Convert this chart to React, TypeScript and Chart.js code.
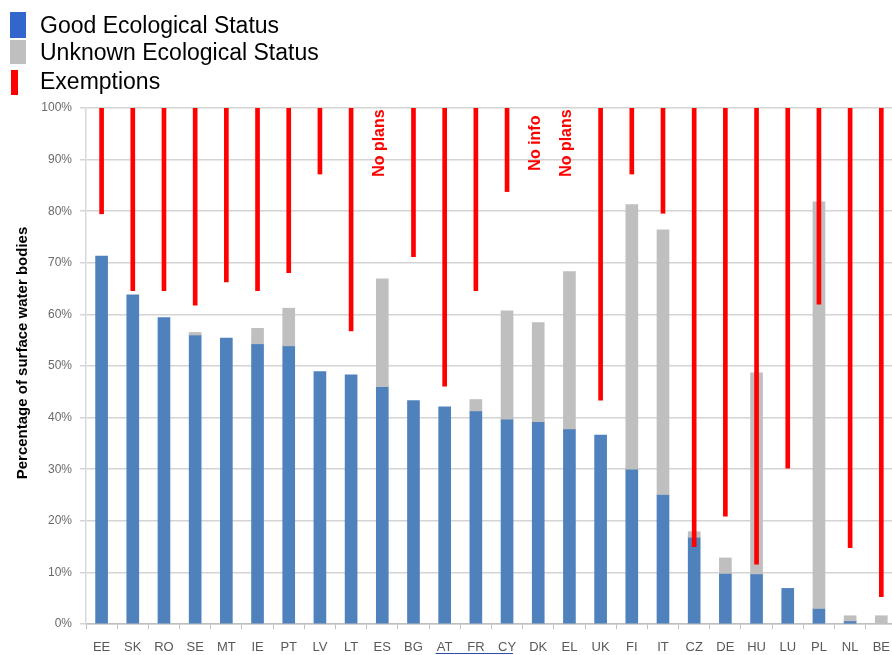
import React, { useEffect, useRef } from "react";
import { Chart, registerables } from "chart.js";

Chart.register(...registerables);

const countries = ["EE", "SK", "RO", "SE", "MT", "IE", "PT", "LV", "LT", "ES", "BG", "AT", "FR", "CY", "DK", "EL", "UK", "FI", "IT", "CZ", "DE", "HU", "LU", "PL", "NL", "BE"];

// % of water bodies in good ecological status
const goodStatus = [71.3, 63.8, 59.4, 56.0, 55.4, 54.3, 53.9, 48.9, 48.3, 46.0, 43.3, 42.1, 41.3, 39.7, 39.2, 37.8, 36.6, 30.0, 25.1, 16.8, 9.8, 9.7, 6.9, 3.0, 0.6, 0];
// top of the unknown-status segment (good + unknown)
const unknownTop = [71.3, 63.8, 59.4, 56.5, 55.4, 57.3, 61.2, 48.9, 48.3, 66.9, 43.3, 42.1, 43.5, 60.7, 58.4, 68.3, 36.6, 81.3, 76.4, 17.9, 12.8, 48.7, 6.9, 81.8, 1.6, 1.6];
// exemptions: line runs from this value up to 100%
const exemptionFrom: (number | null)[] = [79.5, 64.6, 64.6, 61.8, 66.3, 64.6, 68.1, 87.2, 56.8, null, 71.2, 46.1, 64.6, 83.8, null, null, 43.4, 87.2, 79.6, 15.0, 20.9, 11.6, 30.2, 62.0, 14.8, 5.3];

const noteCountries = ["ES", "DK", "EL"];
const noteTexts = ["No plans", "No info", "No plans"];
const underlinedCountries = ["AT", "CY"];

const yTickValues = [0, 10, 20, 30, 40, 50, 60, 70, 80, 90, 100];
const yAxisTitle = "Percentage of surface water bodies";

const legendLabels = ["Good Ecological Status", "Unknown Ecological Status", "Exemptions"];
const legendColors = ["#3366cc", "#bfbfbf", "#ff0000"];

const FONT = "'Liberation Sans', Arial, sans-serif";

export default function App() {
  const ref = useRef<HTMLCanvasElement | null>(null);

  useEffect(() => {
    if (!ref.current) return;

    const overlay = {
      id: "overlay",
      afterDraw(chart: any) {
        const ctx = chart.ctx as CanvasRenderingContext2D;
        const xs = chart.scales.x;
        const ys = chart.scales.y;
        ctx.save();
        // legend
        const rects = [
          [10, 12, 16, 26],
          [10, 40, 16, 24],
          [11, 70, 7, 25],
        ];
        const baselines = [33, 60, 89];
        legendLabels.forEach((t, i) => {
          ctx.fillStyle = legendColors[i];
          const r = rects[i];
          ctx.fillRect(r[0], r[1], r[2], r[3]);
          ctx.fillStyle = "#000";
          ctx.font = `23px ${FONT}`;
          ctx.textAlign = "left";
          ctx.textBaseline = "alphabetic";
          ctx.fillText(t, 40, baselines[i]);
        });
        // y axis title
        ctx.save();
        ctx.translate(23, 353);
        ctx.rotate(-Math.PI / 2);
        ctx.fillStyle = "#000";
        ctx.font = `bold 15px ${FONT}`;
        ctx.textAlign = "center";
        ctx.textBaseline = "middle";
        ctx.fillText(yAxisTitle, 0, 0);
        ctx.restore();
        // notes
        noteCountries.forEach((c, i) => {
          const idx = countries.indexOf(c);
          const x = xs.getPixelForValue(idx) - 3;
          const y = ys.getPixelForValue(93.2);
          ctx.save();
          ctx.translate(x, y);
          ctx.rotate(-Math.PI / 2);
          ctx.fillStyle = "#ff0000";
          ctx.font = `bold 16px ${FONT}`;
          ctx.textAlign = "center";
          ctx.textBaseline = "middle";
          ctx.fillText(noteTexts[i], 0, 0);
          ctx.restore();
        });
        // underline under labels
        const i0 = countries.indexOf(underlinedCountries[0]);
        const i1 = countries.indexOf(underlinedCountries[1]);
        const x0 = xs.getPixelForValue(i0) - 9;
        const x1 = xs.getPixelForValue(i1) + 6;
        ctx.strokeStyle = "#2f4f9f";
        ctx.lineWidth = 1;
        ctx.beginPath();
        ctx.moveTo(x0, 653.5);
        ctx.lineTo(x1, 653.5);
        ctx.stroke();
        ctx.restore();
      },
    };

    const chart = new Chart(ref.current, {
      type: "bar",
      data: {
        labels: countries,
        datasets: [
          {
            label: "Exemptions",
            data: exemptionFrom.map((v) => (v === null ? null : [v, 100])) as any,
            backgroundColor: "#ff0000",
            barThickness: 4,
            grouped: false,
            order: 0,
            borderSkipped: false,
          } as any,
          {
            label: "Unknown Ecological Status",
            data: unknownTop.map((v, i) => (v > goodStatus[i] ? [goodStatus[i], v] : null)) as any,
            backgroundColor: "#bfbfbf",
            barThickness: 12,
            grouped: false,
            order: 1,
          } as any,
          {
            label: "Good Ecological Status",
            data: goodStatus.map((v) => (v > 0 ? [0, v] : null)) as any,
            backgroundColor: "#4f81bd",
            barThickness: 12,
            grouped: false,
            order: 2,
          } as any,
        ],
      },
      options: {
        responsive: false,
        animation: false,
        layout: { padding: { top: 108, right: 1, left: 0, bottom: 0 } },
        plugins: { legend: { display: false }, tooltip: { enabled: false } },
        scales: {
          x: {
            offset: true,
            grid: { display: true, drawOnChartArea: false, drawTicks: true, tickLength: 5, color: "#bfbfbf", offset: true },
            border: { display: true, color: "#bfbfbf", width: 1.5 },
            ticks: { color: "#595959", font: { size: 13, family: FONT }, padding: 11, maxRotation: 0, autoSkip: false },
            afterFit: (s: any) => {
              s.height = 31;
            },
          },
          y: {
            min: 0,
            max: 100,
            afterBuildTicks: (s: any) => {
              s.ticks = yTickValues.map((v) => ({ value: v }));
            },
            ticks: {
              callback: (v: any) => `${v}%`,
              color: "#6a6a6a",
              font: { size: 12, family: FONT },
              padding: 8,
            },
            grid: { color: "#d4d4d4", lineWidth: 1.5, tickLength: 6 },
            border: { display: true, color: "#d9d9d9", width: 1.5 },
            title: { display: false },
            afterFit: (s: any) => {
              s.width = 86;
            },
          },
        },
      } as any,
      plugins: [overlay],
    });
    return () => chart.destroy();
  }, []);

  return (
    <div style={{ position: "fixed", left: 0, top: 0, width: 892, height: 655, overflow: "hidden", background: "#fff" }}>
      <canvas ref={ref} width={901} height={655} style={{ display: "block" }} />
    </div>
  );
}
